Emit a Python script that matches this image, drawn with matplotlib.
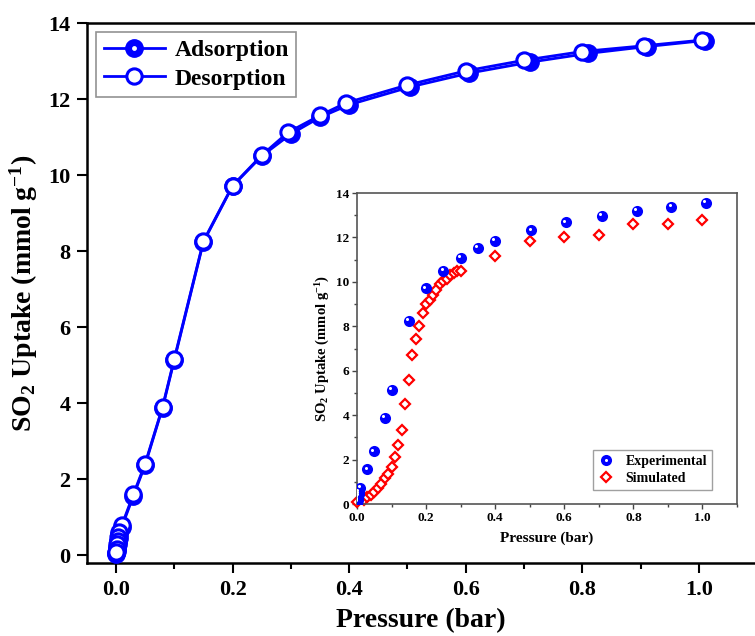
import matplotlib
matplotlib.use('Agg')
import matplotlib.pyplot as plt
from matplotlib.ticker import MultipleLocator
from matplotlib.transforms import offset_copy
from matplotlib.legend_handler import HandlerTuple

plt.rcParams['font.family'] = ['Liberation Serif', 'DejaVu Serif']
plt.rcParams['font.weight'] = 'bold'
plt.rcParams['axes.labelweight'] = 'bold'
plt.rcParams['mathtext.fontset'] = 'custom'
plt.rcParams['mathtext.rm'] = 'Liberation Serif:bold'
plt.rcParams['mathtext.bf'] = 'Liberation Serif:bold'
plt.rcParams['mathtext.it'] = 'Liberation Serif:bold'

# adsorption branch (also the experimental points of the inset)
ads_x = [0.0002, 0.0005, 0.001, 0.0015, 0.002, 0.003, 0.004, 0.005, 0.006, 0.01,
         0.03, 0.05, 0.08, 0.10, 0.15, 0.20, 0.25, 0.30, 0.35, 0.40,
         0.505, 0.605, 0.71, 0.81, 0.91, 1.01]
ads_y = [0.02, 0.06, 0.1, 0.15, 0.2, 0.28, 0.36, 0.45, 0.55, 0.74,
         1.56, 2.37, 3.88, 5.13, 8.24, 9.71, 10.5, 11.08, 11.52, 11.85,
         12.32, 12.68, 12.97, 13.2, 13.38, 13.54]

# desorption branch
des_x = [1.005, 0.905, 0.80, 0.70, 0.60, 0.50, 0.395, 0.35, 0.295, 0.25, 0.20, 0.15,
         0.10, 0.08, 0.05, 0.03, 0.01, 0.006, 0.004, 0.003, 0.002, 0.001, 0.0005]
des_y = [13.55, 13.4, 13.25, 13.02, 12.74, 12.37, 11.9, 11.57, 11.12, 10.52, 9.72, 8.26,
         5.16, 3.9, 2.4, 1.6, 0.78, 0.6, 0.48, 0.38, 0.28, 0.16, 0.08]

# simulated isotherm (inset)
sim_x = [0.0, 0.02, 0.03, 0.04, 0.05, 0.06, 0.07, 0.08, 0.09, 0.10,
         0.11, 0.12, 0.13, 0.14, 0.15, 0.16, 0.17, 0.18, 0.19, 0.20,
         0.21, 0.22, 0.23, 0.24, 0.25, 0.26, 0.27, 0.28, 0.29, 0.30,
         0.40, 0.50, 0.60, 0.70, 0.80, 0.90, 1.00]
sim_y = [0.1, 0.2, 0.3, 0.4, 0.55, 0.7, 0.9, 1.15, 1.35, 1.65,
         2.1, 2.65, 3.35, 4.5, 5.6, 6.72, 7.45, 8.02, 8.62, 9.0,
         9.2, 9.4, 9.65, 9.9, 10.05, 10.15, 10.3, 10.4, 10.5, 10.5,
         11.15, 11.82, 12.02, 12.13, 12.6, 12.62, 12.77]

blue = '#0000ff'
red = '#ff0000'

fig = plt.figure(figsize=(7.55, 6.36), dpi=100)
ax = fig.add_axes([0.1152, 0.1148, 0.8848, 0.849])

ad_line, = ax.plot(ads_x, ads_y, '-o', color=blue, lw=2, ms=12.5,
                   mfc=blue, mec=blue, zorder=3)
hl = offset_copy(ax.transData, fig=fig, x=-2, y=2, units='points')
ax.plot(ads_x, ads_y, 'o', color='white', ms=3.5, mec='none', transform=hl, zorder=3.1)
de_line, = ax.plot(des_x, des_y, '-o', color=blue, lw=2, ms=11, mfc='white',
                   mec=blue, mew=2.2, zorder=4)

ax.set_xlim(-0.0497, 1.096)
ax.set_ylim(-0.21, 14)
ax.xaxis.set_minor_locator(MultipleLocator(0.1))
ax.yaxis.set_major_locator(MultipleLocator(2))
ax.set_xticks([0, 0.2, 0.4, 0.6, 0.8, 1.0])
ax.set_xticklabels(['0.0', '0.2', '0.4', '0.6', '0.8', '1.0'])
ax.tick_params(which='major', direction='out', length=7, width=1.5, labelsize=16, pad=5)
ax.tick_params(which='minor', direction='out', length=4, width=1.5)
ax.tick_params(axis='y', which='minor', length=0)
for s in ['left', 'bottom', 'top']:
    ax.spines[s].set_linewidth(1.8)
ax.spines['right'].set_visible(False)
ax.set_xlabel('Pressure (bar)', fontsize=20, labelpad=6)
ax.set_ylabel(r'SO$_{2}$ Uptake (mmol g$^{-1}$)', fontsize=20, labelpad=6)

hl_handle, = ax.plot([], [], 'o', color='white', ms=3.5, mec='none')
leg = ax.legend([(ad_line, hl_handle), de_line], ['Adsorption', 'Desorption'],
                handler_map={tuple: HandlerTuple(ndivide=1)},
                loc='upper left', fontsize=17, frameon=True, fancybox=False,
                edgecolor='#777777', handlelength=2.6, borderaxespad=0.4,
                borderpad=0.3, labelspacing=0.3, handletextpad=0.4)
leg.get_frame().set_linewidth(1.2)

# inset
ins = fig.add_axes([0.4728, 0.2075, 0.5034, 0.489])
ins.plot(ads_x, ads_y, 'o', color=blue, ms=8, mec='none', zorder=3)
hl2 = offset_copy(ins.transData, fig=fig, x=-1.3, y=1.3, units='points')
ins.plot(ads_x, ads_y, 'o', color='white', ms=2.2, mec='none', transform=hl2, zorder=3.1)
ins.plot(sim_x, sim_y, 'D', ms=5, mfc='white', mec=red, mew=1.6, zorder=2, clip_on=False)
ins.set_xlim(0, 1.1)
ins.set_ylim(0, 14)
ins.set_xticks([0, 0.2, 0.4, 0.6, 0.8, 1.0])
ins.set_xticklabels(['0.0', '0.2', '0.4', '0.6', '0.8', '1.0'])
ins.xaxis.set_minor_locator(MultipleLocator(0.1))
ins.yaxis.set_major_locator(MultipleLocator(2))
ins.yaxis.set_minor_locator(MultipleLocator(1))
ins.tick_params(which='major', direction='out', length=3.5, width=1.0, labelsize=9.5,
                pad=2, color='#444444')
ins.tick_params(which='minor', direction='out', length=2, width=1.0, color='#444444')
for s in ins.spines.values():
    s.set_color('#555555')
    s.set_linewidth(1.2)
ins.set_xlabel('Pressure (bar)', fontsize=11, labelpad=6)
ins.set_ylabel(r'SO$_{2}$ Uptake (mmol g$^{-1}$)', fontsize=10.5, labelpad=3)

e_h, = ins.plot([], [], 'o', color=blue, ms=8, mec='none')
e_hl, = ins.plot([], [], 'o', color='white', ms=2.2, mec='none')
s_h, = ins.plot([], [], 'D', ms=5, mfc='white', mec=red, mew=1.6)
leg2 = ins.legend([(e_h, e_hl), s_h], ['Experimental', 'Simulated'],
                  handler_map={tuple: HandlerTuple(ndivide=1)},
                  loc='lower right', bbox_to_anchor=(0.934, 0.045), borderaxespad=0,
                  fontsize=10, frameon=True, fancybox=False, edgecolor='#888888',
                  handlelength=1.2, borderpad=0.35, labelspacing=0.3, handletextpad=0.8)
leg2.get_frame().set_linewidth(1.0)

fig.savefig('out.png', dpi=100)
